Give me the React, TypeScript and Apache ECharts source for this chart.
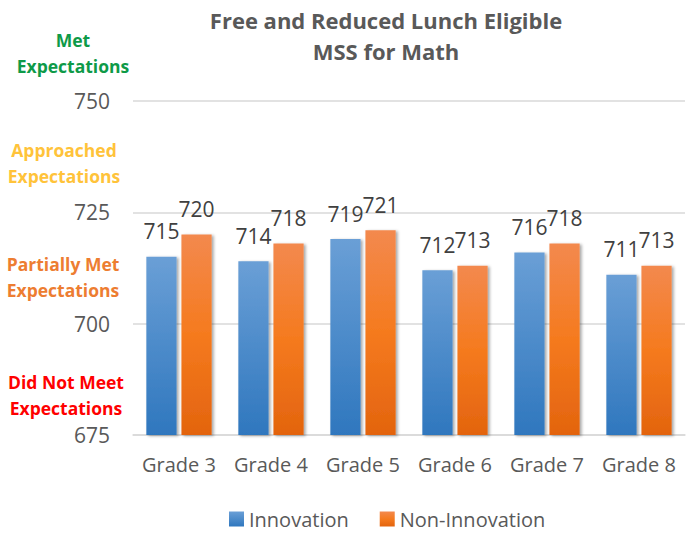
import React, { useEffect, useRef } from "react";
import * as echarts from "echarts";

const categories = ["Grade 3", "Grade 4", "Grade 5", "Grade 6", "Grade 7", "Grade 8"];
const innovation = [715, 714, 719, 712, 716, 711];
const nonInnovation = [720, 718, 721, 713, 718, 713];
const seriesNames = ["Innovation", "Non-Innovation"];
const titleLines = ["Free and Reduced Lunch Eligible", "MSS for Math"];
const bandLabels = [
  { text: "Met\nExpectations", color: "#0E9A48", x: 73, y: 53 },
  { text: "Approached\nExpectations", color: "#FFC33A", x: 64, y: 163 },
  { text: "Partially Met\nExpectations", color: "#ED7D31", x: 63, y: 277 },
  { text: "Did Not Meet\nExpectations", color: "#FF0000", x: 66, y: 395 },
];

const FONT = "'Open Sans', 'Noto Sans', sans-serif";

export default function App() {
  const ref = useRef<HTMLDivElement>(null);
  useEffect(() => {
    document.body.style.margin = "0";
    if (!ref.current) return;
    const chart = echarts.init(ref.current, null, { renderer: "svg" });
    const blue = new echarts.graphic.LinearGradient(0, 0, 0, 1, [
      { offset: 0, color: "#6A9FD6" },
      { offset: 1, color: "#2F77BE" },
    ]);
    const orange = new echarts.graphic.LinearGradient(0, 0, 0, 1, [
      { offset: 0, color: "#F3894E" },
      { offset: 0.5, color: "#F57A1E" },
      { offset: 1, color: "#E3640E" },
    ]);
    const shadow = {
      shadowBlur: 3,
      shadowColor: "rgba(0,0,0,0.35)",
      shadowOffsetX: 2,
      shadowOffsetY: 1,
    };
    const labelStyle = {
      show: true,
      position: "top" as const,
      distance: 15,
      fontFamily: FONT,
      fontSize: 21,
      color: "#404040",
    };
    chart.setOption({
      animation: false,
      textStyle: { fontFamily: FONT },
      grid: { left: 133, right: 1, top: 101, bottom: 99 },
      legend: {
        data: seriesNames,
        left: 224,
        top: 504,
        itemWidth: 15,
        itemHeight: 15,
        itemGap: 31,
        icon: "rect",
        textStyle: { fontFamily: FONT, fontSize: 20, color: "#595959" },
      },
      xAxis: {
        type: "category",
        data: categories,
        axisLine: { show: true, lineStyle: { color: "#D9D9D9", width: 1.5 } },
        axisTick: { show: false },
        axisLabel: { interval: 0, fontFamily: FONT, fontSize: 20, color: "#595959", margin: 19 },
      },
      yAxis: {
        type: "value",
        min: 675,
        max: 750,
        interval: 25,
        axisLine: { show: false },
        axisTick: { show: false },
        splitLine: { lineStyle: { color: "#D9D9D9", width: 1.5 } },
        axisLabel: { fontFamily: FONT, fontSize: 21, color: "#595959", margin: 23 },
      },
      series: [
        {
          name: seriesNames[0],
          type: "bar",
          data: innovation,
          barGap: "16%",
          barCategoryGap: "29%",
          itemStyle: { color: blue, ...shadow },
          label: labelStyle,
        },
        {
          name: seriesNames[1],
          type: "bar",
          data: nonInnovation,
          itemStyle: { color: orange, ...shadow },
          label: labelStyle,
        },
      ],
      graphic: [
        {
          type: "text",
          x: 386,
          y: 35,
          style: {
            text: titleLines.join("\n"),
            fontFamily: FONT,
            fontWeight: "bold",
            fontSize: 22,
            lineHeight: 31,
            fill: "#595959",
            textAlign: "center",
            textVerticalAlign: "middle",
          },
        },
        ...bandLabels.map((b) => ({
          type: "text",
          x: b.x,
          y: b.y,
          style: {
            text: b.text,
            fontFamily: FONT,
            fontWeight: "bold",
            fontSize: 17.5,
            lineHeight: 26,
            fill: b.color,
            textAlign: "center",
            textVerticalAlign: "middle",
          },
        })),
      ],
    });
    return () => chart.dispose();
  }, []);
  return <div ref={ref} style={{ width: 686, height: 534 }} />;
}
